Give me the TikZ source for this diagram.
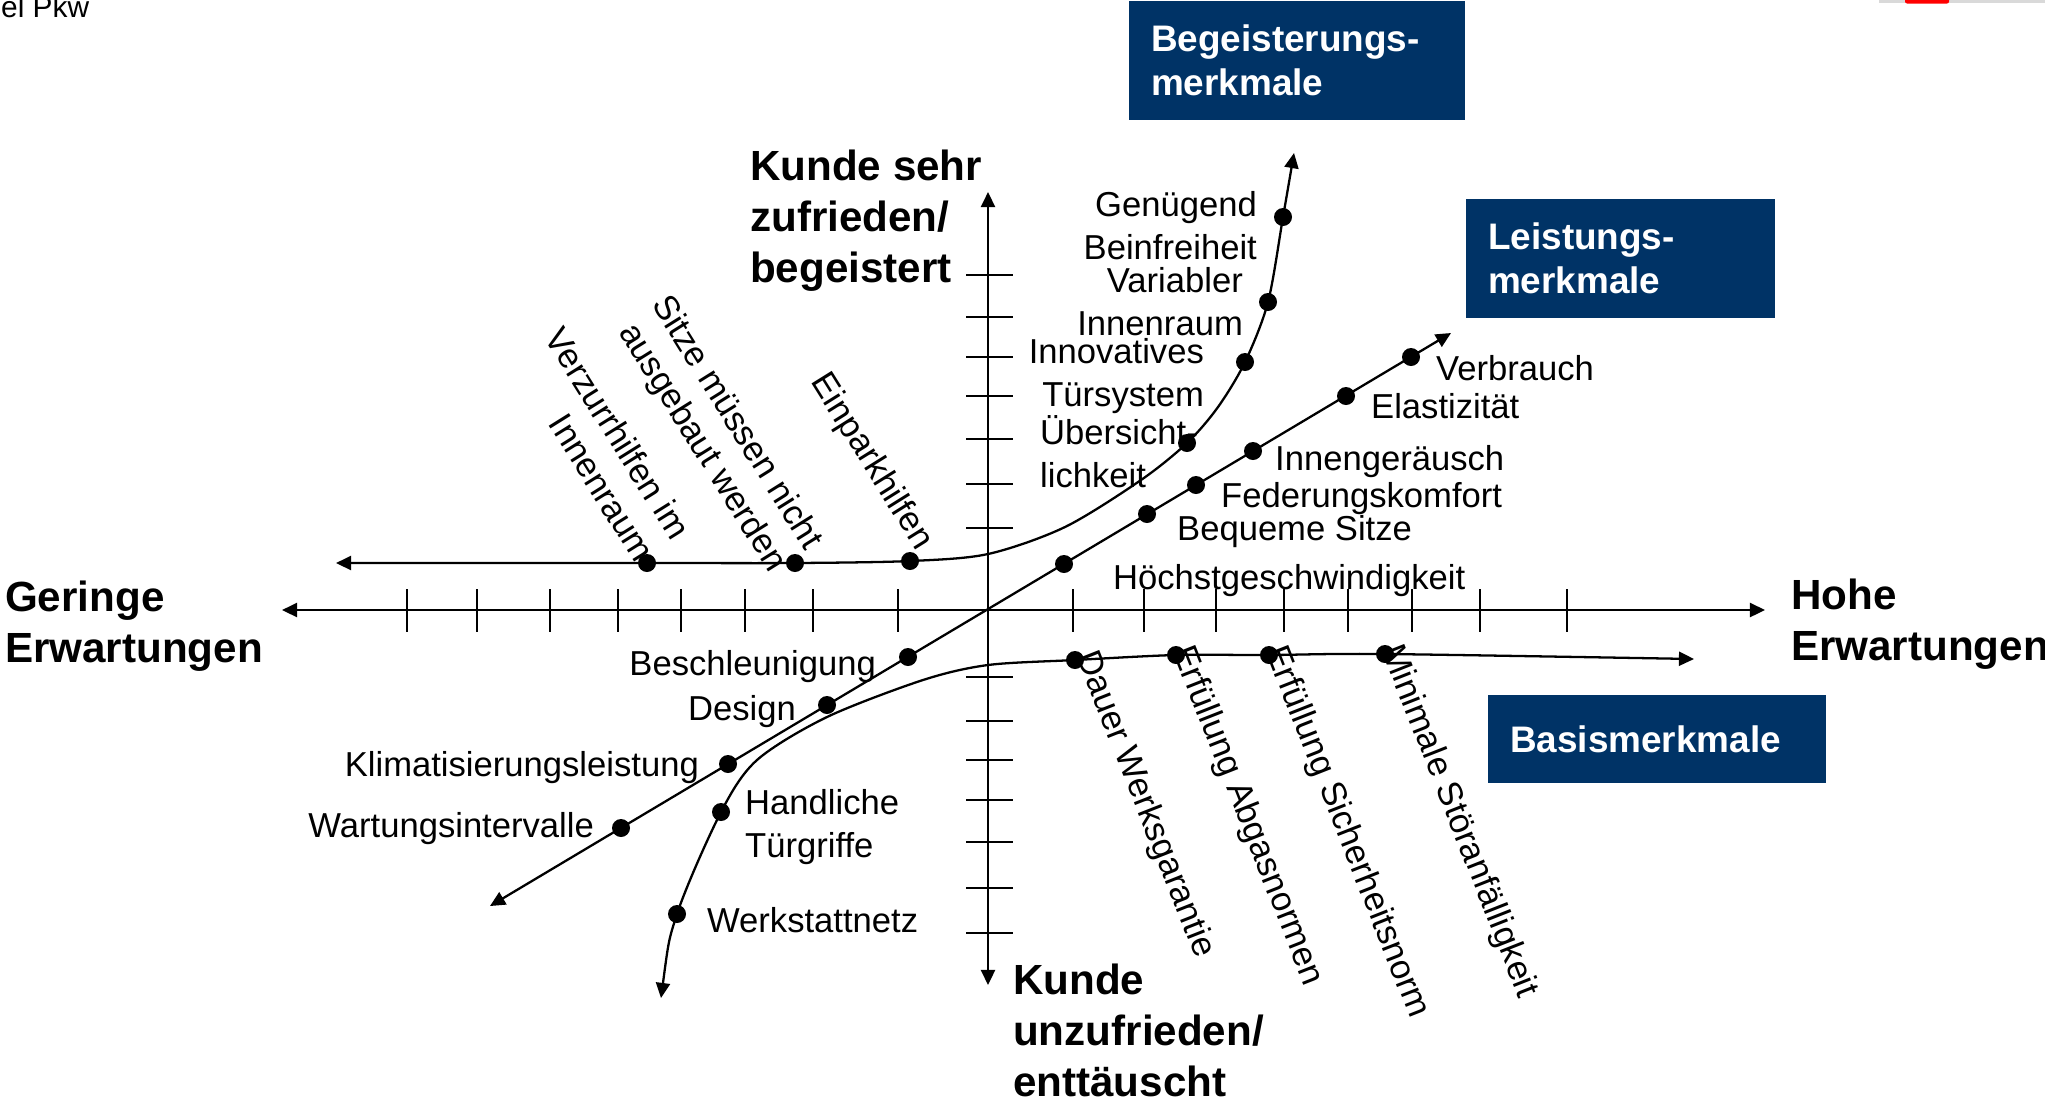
\documentclass[tikz,border=0pt]{standalone}
\usepackage{fontspec}
\setmainfont{Liberation Sans}
\usetikzlibrary{arrows.meta}
\definecolor{kanoblue}{RGB}{0,51,102}

\begin{document}
\begin{tikzpicture}[line width=0.65pt, >={Triangle[length=4.3pt,width=4pt]},
  lbl/.style={font=\fontsize{9.85}{12}\selectfont},
  ttl/.style={font=\fontsize{12}{14.4}\selectfont\bfseries, align=left, anchor=base west},
  catbox/.style={fill=kanoblue, text=white, font=\fontsize{10.5}{12.5}\selectfont\bfseries,
    align=left, inner xsep=0.22cm, anchor=north west}]
\tikzstyle{every node}+=[inner sep=0pt]
\useasboundingbox (0,0) rectangle (20.45,-11.05);
% points on the curves
\coordinate (bg1) at (6.47,-5.63);
\coordinate (bg2) at (7.95,-5.63);
\coordinate (bg3) at (9.10,-5.61);
\coordinate (bg4) at (11.87,-4.43);
\coordinate (bg5) at (12.45,-3.62);
\coordinate (bg6) at (12.68,-3.02);
\coordinate (bg7) at (12.83,-2.17);
\coordinate (lsa) at (4.90,-9.06);
\coordinate (lsb) at (14.51,-3.33);
\coordinate (ls1) at (6.21,-8.28);
\coordinate (ls2) at (7.28,-7.64);
\coordinate (ls3) at (8.27,-7.05);
\coordinate (ls4) at (9.08,-6.57);
\coordinate (ls5) at (10.64,-5.64);
\coordinate (ls6) at (11.47,-5.14);
\coordinate (ls7) at (11.96,-4.85);
\coordinate (ls8) at (12.53,-4.51);
\coordinate (ls9) at (13.46,-3.96);
\coordinate (ls10) at (14.11,-3.57);
\coordinate (bs1) at (6.77,-9.14);
\coordinate (bs2) at (7.21,-8.12);
\coordinate (bs3) at (10.75,-6.60);
\coordinate (bs4) at (11.76,-6.55);
\coordinate (bs5) at (12.69,-6.55);
\coordinate (bs6) at (13.85,-6.54);
% axes
\draw [<->] (2.82,-6.10) -- (17.65,-6.10);
\draw [<->] (9.88,-1.92) -- (9.88,-9.85);
\foreach \x in {4.07,4.77,5.50,6.18,6.81,7.45,8.13,8.98,10.73,11.44,12.16,12.84,13.48,14.12,14.80,15.67}
  \draw [line width=0.55pt] (\x,-5.89) -- (\x,-6.32);
\foreach \y in {2.75,3.17,3.57,3.96,4.39,4.84,5.28,6.77,7.21,7.60,8.00,8.42,8.88,9.33}
  \draw [line width=0.55pt] (9.66,-\y) -- (10.13,-\y);
% the three curves
\draw [<->] plot [smooth] coordinates {(3.36,-5.63) (bg1) (bg2) (bg3) (9.88,-5.54) (10.65,-5.27)
  (11.41,-4.80) (bg4) (12.18,-4.07) (bg5) (bg6) (bg7) (12.94,-1.53)};
\draw [<->] (lsa) -- (lsb);
\draw [<->] plot [smooth] coordinates {(6.61,-9.98) (bs1) (bs2) (7.57,-7.60) (8.27,-7.17)
  (9.23,-6.80) (9.88,-6.65) (bs3) (bs4) (bs5) (bs6) (16.94,-6.59)};
\foreach \i in {1,...,7} \fill (bg\i) circle (0.09);
\foreach \i in {1,...,10} \fill (ls\i) circle (0.09);
\foreach \i in {1,...,6} \fill (bs\i) circle (0.09);
% labels of the points
\node [lbl, align=right, anchor=base east] (gen) at (12.58,-2.59) {Genügend\\Beinfreiheit};
\node [lbl, align=right, anchor=base east] (var) at (12.44,-3.35) {Variabler\\Innenraum};
\node [lbl, align=right, anchor=base east] (inno) at (12.05,-4.06) {Innovatives\\Türsystem};
\node [lbl, align=left, anchor=base west] (ueb) at (10.39,-4.87) {Übersicht-\\lichkeit};
\node [lbl, align=right, rotate=-58, anchor=south east] (verz) at (6.35,-5.66) {Verzurrhilfen im\\Innenraum};
\node [lbl, align=right, rotate=-58, anchor=south east] (sitz) at (7.63,-5.79) {Sitze müssen nicht\\ausgebaut werden};
\node [lbl, rotate=-58, anchor=south east] (einp) at (9.10,-5.57) {Einparkhilfen};
\node [lbl, anchor=base west] (verb) at (14.35,-3.80) {Verbrauch};
\node [lbl, anchor=base west] (elas) at (13.70,-4.18) {Elastizität};
\node [lbl, anchor=base west] (inng) at (12.74,-4.70) {Innengeräusch};
\node [lbl, anchor=base west] (fede) at (12.20,-5.07) {Federungskomfort};
\node [lbl, anchor=base west] (bequ) at (11.76,-5.40) {Bequeme Sitze};
\node [lbl, anchor=base west] (hoch) at (11.12,-5.89) {Höchstgeschwindigkeit};
\node [lbl, anchor=base east] (besc) at (8.77,-6.75) {Beschleunigung};
\node [lbl, anchor=base east] (desi) at (7.97,-7.20) {Design};
\node [lbl, anchor=base east] (klim) at (7.00,-7.76) {Klimatisierungsleistung};
\node [lbl, anchor=base east] (wart) at (5.95,-8.37) {Wartungsintervalle};
\node [lbl, align=left, anchor=base west] (hand) at (7.44,-8.57) {Handliche\\Türgriffe};
\node [lbl, anchor=base west] (werk) at (7.06,-9.32) {Werkstattnetz};
\node [lbl, rotate=-68.5, anchor=base west] (daue) at (10.76,-6.55) {Dauer Werksgarantie};
\node [lbl, rotate=-68.5, anchor=base west] (abga) at (11.72,-6.50) {Erfüllung Abgasnormen};
\node [lbl, rotate=-68.5, anchor=base west] (sich) at (12.65,-6.50) {Erfüllung Sicherheitsnorm};
\node [lbl, rotate=-68.5, anchor=base west] (stoe) at (13.81,-6.49) {Minimale Störanfälligkeit};
% axis titles
\node [ttl] (oben) at (7.49,-2.82) {Kunde sehr\\zufrieden/\\begeistert};
\node [ttl] (unten) at (10.12,-10.96) {Kunde\\unzufrieden/\\enttäuscht};
\node [ttl] (links) at (0.04,-6.62) {Geringe\\Erwartungen};
\node [ttl] (rechts) at (17.90,-6.60) {Hohe\\Erwartungen};
% category boxes
\node [catbox, text width=2.92cm, minimum height=1.19cm] (bgbox) at (11.28,0) {Begeisterungs-\\merkmale};
\node [catbox, text width=2.65cm, minimum height=1.19cm] (lsbox) at (14.65,-1.98) {Leistungs-\\merkmale};
\node [catbox, text width=2.94cm, minimum height=0.88cm] (bsbox) at (14.87,-6.94) {Basismerkmale};
% page remains at the edges
\node [font=\fontsize{8.5}{10}\selectfont, anchor=base west] (pkw) at (0.0,-0.17) {el Pkw};
\fill [gray!30] (18.79,0) rectangle (20.45,-0.025);
\fill [red, rounded corners=0.02cm] (19.05,0.02) rectangle (19.49,-0.035);
\end{tikzpicture}
\end{document}
